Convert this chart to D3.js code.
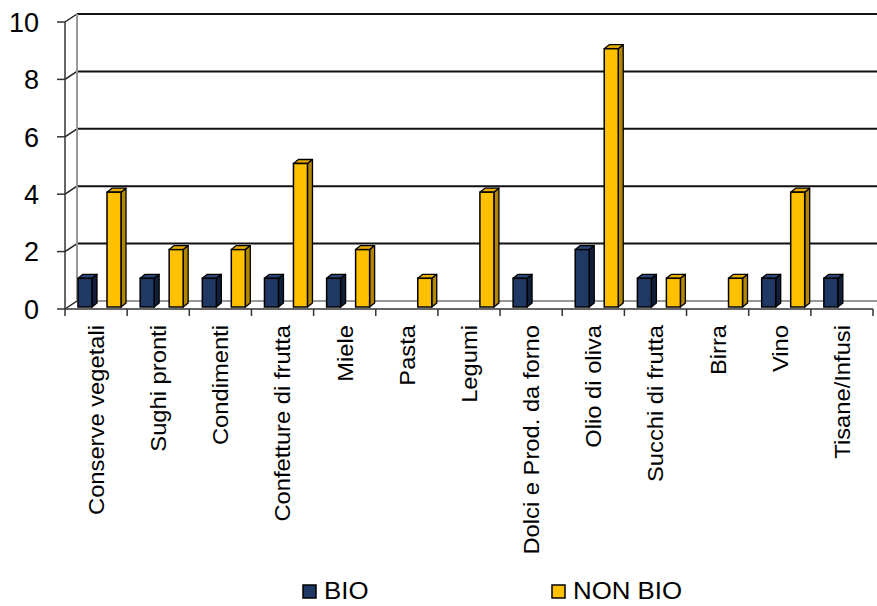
<!DOCTYPE html>
<html>
<head>
<meta charset="utf-8">
<script src="https://cdnjs.cloudflare.com/ajax/libs/d3/7.8.5/d3.min.js"></script>
<style>
  body { margin: 0; background: #fff; }
  text { font-family: "Liberation Sans", Arial, sans-serif; fill: #000; }
</style>
</head>
<body>
<div id="chart-area"></div>
<script>

var width = 877,
    height = 606;

// Data
var categories = ["Conserve vegetali", "Sughi pronti", "Condimenti", "Confetture di frutta",
  "Miele", "Pasta", "Legumi", "Dolci e Prod. da forno", "Olio di oliva",
  "Succhi di frutta", "Birra", "Vino", "Tisane/Infusi"];
var bio    = [1, 1, 1, 1, 1, 0, 0, 1, 2, 1, 0, 1, 1];
var nonBio = [4, 2, 2, 5, 2, 1, 4, 0, 9, 1, 1, 4, 0];
var yTicks = [0, 2, 4, 6, 8, 10];
var seriesNames = ["BIO", "NON BIO"];

var colors = {
  BIO: { front: "#203864", side: "#121f3a", top: "#2a4679" },
  "NON BIO": { front: "#ffc000", side: "#b38600", top: "#e6ad00" }
};

var svg = d3.select("#chart-area").append("svg")
    .attr("width", width)
    .attr("height", height);

// wall depth offset
var dx = 12, dy = -8;

var x = d3.scaleBand()
    .domain(categories)
    .range([65, 873]);

var y = d3.scaleLinear()
    .domain([0, 10])
    .range([309, 22]);

// back gridlines
svg.selectAll(".grid")
    .data(yTicks.filter(d => d > 0))
    .enter()
    .append("line")
    .attr("x1", 65 + dx)
    .attr("x2", width)
    .attr("y1", d => y(d) + dy)
    .attr("y2", d => y(d) + dy)
    .style("stroke", "#111")
    .style("stroke-width", 2);

// diagonals on side wall
svg.selectAll(".diag")
    .data(yTicks)
    .enter()
    .append("line")
    .attr("x1", 65)
    .attr("y1", d => y(d))
    .attr("x2", 65 + dx)
    .attr("y2", d => y(d) + dy)
    .style("stroke", "#222")
    .style("stroke-width", 1.5);

// back wall left edge
svg.append("line")
    .attr("x1", 65 + dx).attr("x2", 65 + dx)
    .attr("y1", y(10) + dy).attr("y2", y(0) + dy)
    .style("stroke", "#999")
    .style("stroke-width", 2);

// floor back edge
svg.append("line")
    .attr("x1", 65 + dx).attr("x2", width)
    .attr("y1", y(0) + dy).attr("y2", y(0) + dy)
    .style("stroke", "#999")
    .style("stroke-width", 2);

// bars
var barW = 14, bdx = 5, bdy = -4, base = -2;
var offsets = [13, 42];

function drawBars(values, s) {
  var name = seriesNames[s];
  var g = svg.append("g").attr("class", "series");
  var bars = g.selectAll("g")
    .data(values.map((v, i) => ({ cat: categories[i], v: v })).filter(d => d.v > 0))
    .enter()
    .append("g");

  var x0 = d => x(d.cat) + offsets[s];
  var y0 = y(0) + base;
  var yt = d => y(d.v) + base;

  // side face
  bars.append("path")
    .attr("d", d => "M" + (x0(d) + barW) + "," + y0 +
      "L" + (x0(d) + barW) + "," + yt(d) +
      "L" + (x0(d) + barW + bdx) + "," + (yt(d) + bdy) +
      "L" + (x0(d) + barW + bdx) + "," + (y0 + bdy) + "Z")
    .style("fill", colors[name].side)
    .style("stroke", "#000")
    .style("stroke-width", 1.3)
    .style("stroke-linejoin", "round");

  // top face
  bars.append("path")
    .attr("d", d => "M" + x0(d) + "," + yt(d) +
      "L" + (x0(d) + bdx) + "," + (yt(d) + bdy) +
      "L" + (x0(d) + barW + bdx) + "," + (yt(d) + bdy) +
      "L" + (x0(d) + barW) + "," + yt(d) + "Z")
    .style("fill", colors[name].top)
    .style("stroke", "#000")
    .style("stroke-width", 1.3)
    .style("stroke-linejoin", "round");

  // front face
  bars.append("rect")
    .attr("x", x0)
    .attr("y", yt)
    .attr("width", barW)
    .attr("height", d => y0 - yt(d))
    .style("fill", colors[name].front)
    .style("stroke", "#000")
    .style("stroke-width", 1.5);
}

drawBars(bio, 0);
drawBars(nonBio, 1);

// front floor edge / x axis
svg.append("line")
    .attr("x1", 65).attr("x2", 873)
    .attr("y1", y(0)).attr("y2", y(0))
    .style("stroke", "#333")
    .style("stroke-width", 1.5);

svg.selectAll(".xtick")
    .data(categories.concat(["end"]))
    .enter()
    .append("line")
    .attr("x1", (d, i) => i < categories.length ? x(d) : x.range()[1])
    .attr("x2", (d, i) => i < categories.length ? x(d) : x.range()[1])
    .attr("y1", y(0))
    .attr("y2", y(0) + 7)
    .style("stroke", "#333")
    .style("stroke-width", 1.5);

// y axis
svg.append("line")
    .attr("x1", 65).attr("x2", 65)
    .attr("y1", y(10)).attr("y2", y(0))
    .style("stroke", "#333")
    .style("stroke-width", 1.5);

svg.selectAll(".ytick")
    .data(yTicks)
    .enter()
    .append("line")
    .attr("x1", 57).attr("x2", 65)
    .attr("y1", d => y(d)).attr("y2", d => y(d))
    .style("stroke", "#333")
    .style("stroke-width", 1.5);

svg.selectAll(".ylabel")
    .data(yTicks)
    .enter()
    .append("text")
    .attr("x", 39)
    .attr("y", d => y(d))
    .attr("dy", "0.36em")
    .attr("text-anchor", "end")
    .style("font-size", "27px")
    .text(d => d);

// category labels (slightly stretched along their length like the original)
svg.selectAll(".xlabel")
    .data(categories)
    .enter()
    .append("text")
    .attr("transform", d => "translate(" + (x(d) + x.bandwidth() / 2) + ",325) rotate(-90) scale(1.08,1)")
    .attr("text-anchor", "end")
    .attr("dy", "0.36em")
    .style("font-size", "22px")
    .text(d => d);

// legend
var legendX = [303, 552];
var legend = svg.selectAll(".legend")
    .data(seriesNames)
    .enter()
    .append("g")
    .attr("transform", (d, i) => "translate(" + legendX[i] + ",585)");

legend.append("rect")
    .attr("width", 13)
    .attr("height", 13)
    .style("fill", d => colors[d].front)
    .style("stroke", "#000")
    .style("stroke-width", 1.5);

legend.append("text")
    .attr("transform", "translate(21,14) scale(1.1,1)")
    .style("font-size", "23.5px")
    .text(d => d);

</script>
</body>
</html>
